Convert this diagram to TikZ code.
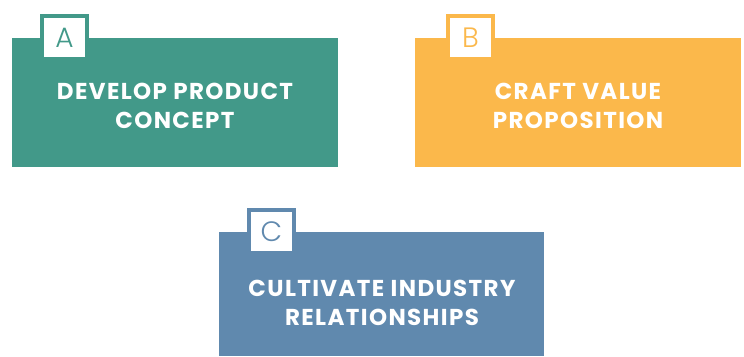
\documentclass[tikz,border=0pt]{standalone}
\usepackage{fontspec}
\setmainfont{Poppins}
\newfontfamily\tabfont{Poppins Light}
\newfontfamily\cardfont[LetterSpace=6]{Poppins}
\definecolor{cteal}{RGB}{66,153,137}
\definecolor{corange}{RGB}{251,184,75}
\definecolor{cblue}{RGB}{96,137,174}
\begin{document}
\begin{tikzpicture}[x=1pt,y=-1pt,
  card/.style={fill=#1, draw=none},
  tabbox/.style={draw=#1, line width=4pt, fill=white, minimum width=45pt, minimum height=43pt, inner sep=0pt, anchor=north west, text=#1, font=\tabfont\fontsize{28}{28}\selectfont},
  cardtext/.style={text=white, font=\cardfont\bfseries\fontsize{23}{29}\selectfont, align=center, inner sep=0pt}]
\useasboundingbox (0,0) rectangle (744,356);
% A
\path[card=cteal] (12,38) rectangle (338,167);
\node[tabbox=cteal] (ta) at (40,14) {A};
\node[cardtext] (a) at (175,106) {DEVELOP PRODUCT\\CONCEPT};
% B
\path[card=corange] (415,38) rectangle (741,167);
\node[tabbox=corange] (tb) at (446,14) {B};
\node[cardtext] (b) at (578,106) {CRAFT VALUE\\PROPOSITION};
% C
\path[card=cblue] (219,232) rectangle (544,356);
\node[tabbox=cblue] (tc) at (247,208) {C};
\node[cardtext] (c) at (382,303) {CULTIVATE INDUSTRY\\RELATIONSHIPS};
\end{tikzpicture}
\end{document}
